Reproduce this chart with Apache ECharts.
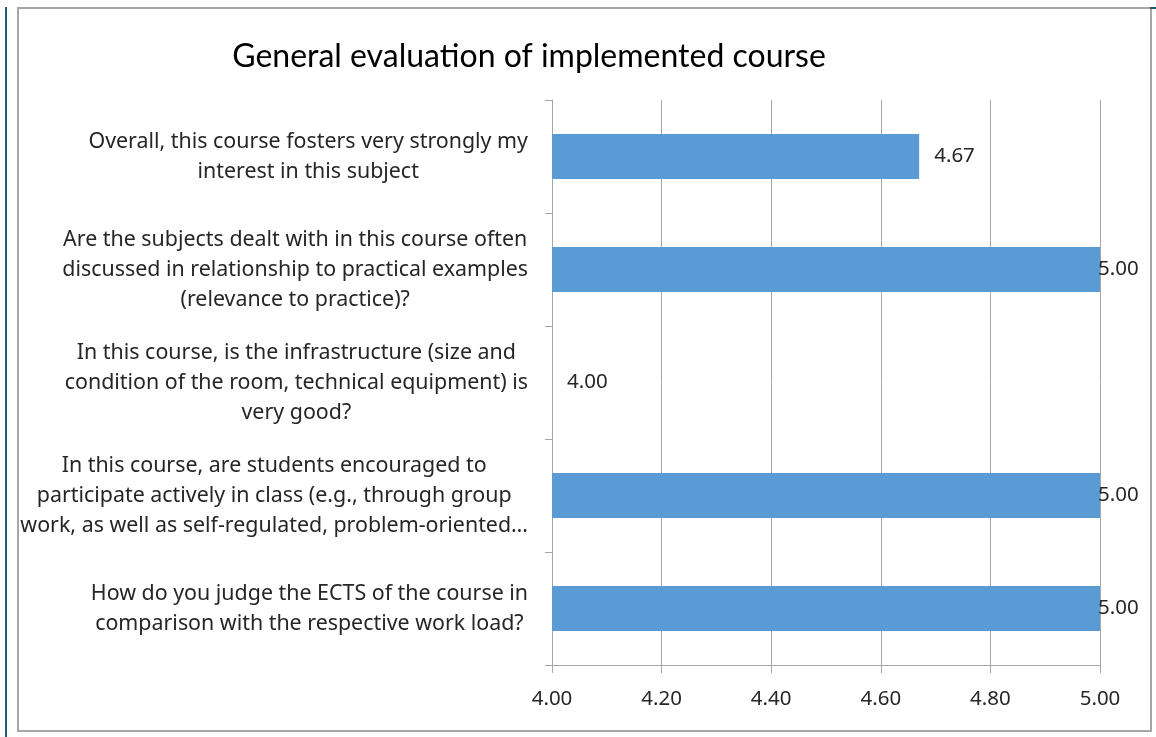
<!DOCTYPE html>
<html>
<head>
<meta charset="utf-8">
<script src="https://cdn.jsdelivr.net/npm/echarts@6/dist/echarts.min.js"></script>
<style>
  html, body { margin: 0; padding: 0; background: #ffffff; }
  #chart { position: absolute; left: 0; top: 0; width: 1156px; height: 737px; }
  #frame { position: absolute; left: 17px; top: 7px; width: 1131px; height: 721px; border: 2px solid #a6a6a6; pointer-events: none; }
  #edge { position: absolute; left: 5px; top: 7px; width: 2px; height: 730px; background: #1f5c6b; pointer-events: none; }
  #edge2 { position: absolute; left: 1150px; top: 7px; width: 6px; height: 2px; background: #1f5c6b; pointer-events: none; }
</style>
</head>
<body>
<div id="chart"></div>
<div id="frame"></div>
<div id="edge"></div>
<div id="edge2"></div>
<script>
const titleText = 'General evaluation of implemented course';
const categories = [
  'Overall, this course fosters very strongly my\ninterest in this subject',
  'Are the subjects dealt with in this course often\ndiscussed in relationship to practical examples\n(relevance to practice)?',
  'In this course, is the infrastructure (size and\ncondition of the room, technical equipment) is\nvery good?',
  'In this course, are students encouraged to\nparticipate actively in class (e.g., through group\nwork, as well as self-regulated, problem-oriented…',
  'How do you judge the ECTS of the course in\ncomparison with the respective work load?'
];
const values = [4.67, 5.00, 4.00, 5.00, 5.00];
const xMin = 4.0, xMax = 5.0, xStep = 0.2;

const textColor = '#262626';
const gridColor = '#a6a6a6';
const fontFam = '"Noto Sans", "Open Sans", sans-serif';

const chart = echarts.init(document.getElementById('chart'), null, { renderer: 'canvas' });

const option = {
  animation: false,
  backgroundColor: '#ffffff',
  title: {
    text: titleText,
    left: 524,
    top: 36,
    textAlign: 'center',
    textStyle: { fontFamily: 'Lato, sans-serif', fontSize: 32, fontWeight: 'normal', color: '#000000' }
  },
  grid: { left: 552, right: 56, top: 100, bottom: 72, containLabel: false },
  xAxis: {
    type: 'value',
    min: xMin,
    max: xMax,
    interval: xStep,
    axisLine: { show: true, lineStyle: { color: gridColor, width: 1 } },
    axisTick: { show: true, length: 8, lineStyle: { color: gridColor } },
    splitLine: { show: true, lineStyle: { color: gridColor, width: 1 } },
    axisLabel: {
      margin: 24,
      fontFamily: fontFam,
      fontSize: 20.5,
      color: textColor,
      formatter: v => v.toFixed(2)
    }
  },
  yAxis: {
    type: 'category',
    data: categories,
    inverse: true,
    axisLine: { show: true, lineStyle: { color: gridColor, width: 1 } },
    axisTick: { show: true, length: 7, lineStyle: { color: gridColor } },
    axisLabel: {
      margin: 24,
      align: 'right',
      verticalAlign: 'middle',
      formatter: v => v.split('\n').map(s => '{c|' + s + '}').join('\n'),
      rich: {
        c: {
          align: 'center',
          fontFamily: fontFam,
          fontSize: 21.4,
          lineHeight: 30,
          color: textColor
        }
      }
    }
  },
  series: [{
    type: 'bar',
    barCategoryGap: '60%',
    itemStyle: { color: '#5b9bd5' },
    data: values.map(v => ({
      value: v,
      label: { distance: v >= xMax ? -2 : 15 }
    })),
    label: {
      show: true,
      position: 'right',
      fontFamily: fontFam,
      fontSize: 20.5,
      color: textColor,
      formatter: p => p.value.toFixed(2)
    }
  }]
};
chart.setOption(option);
</script>
</body>
</html>
